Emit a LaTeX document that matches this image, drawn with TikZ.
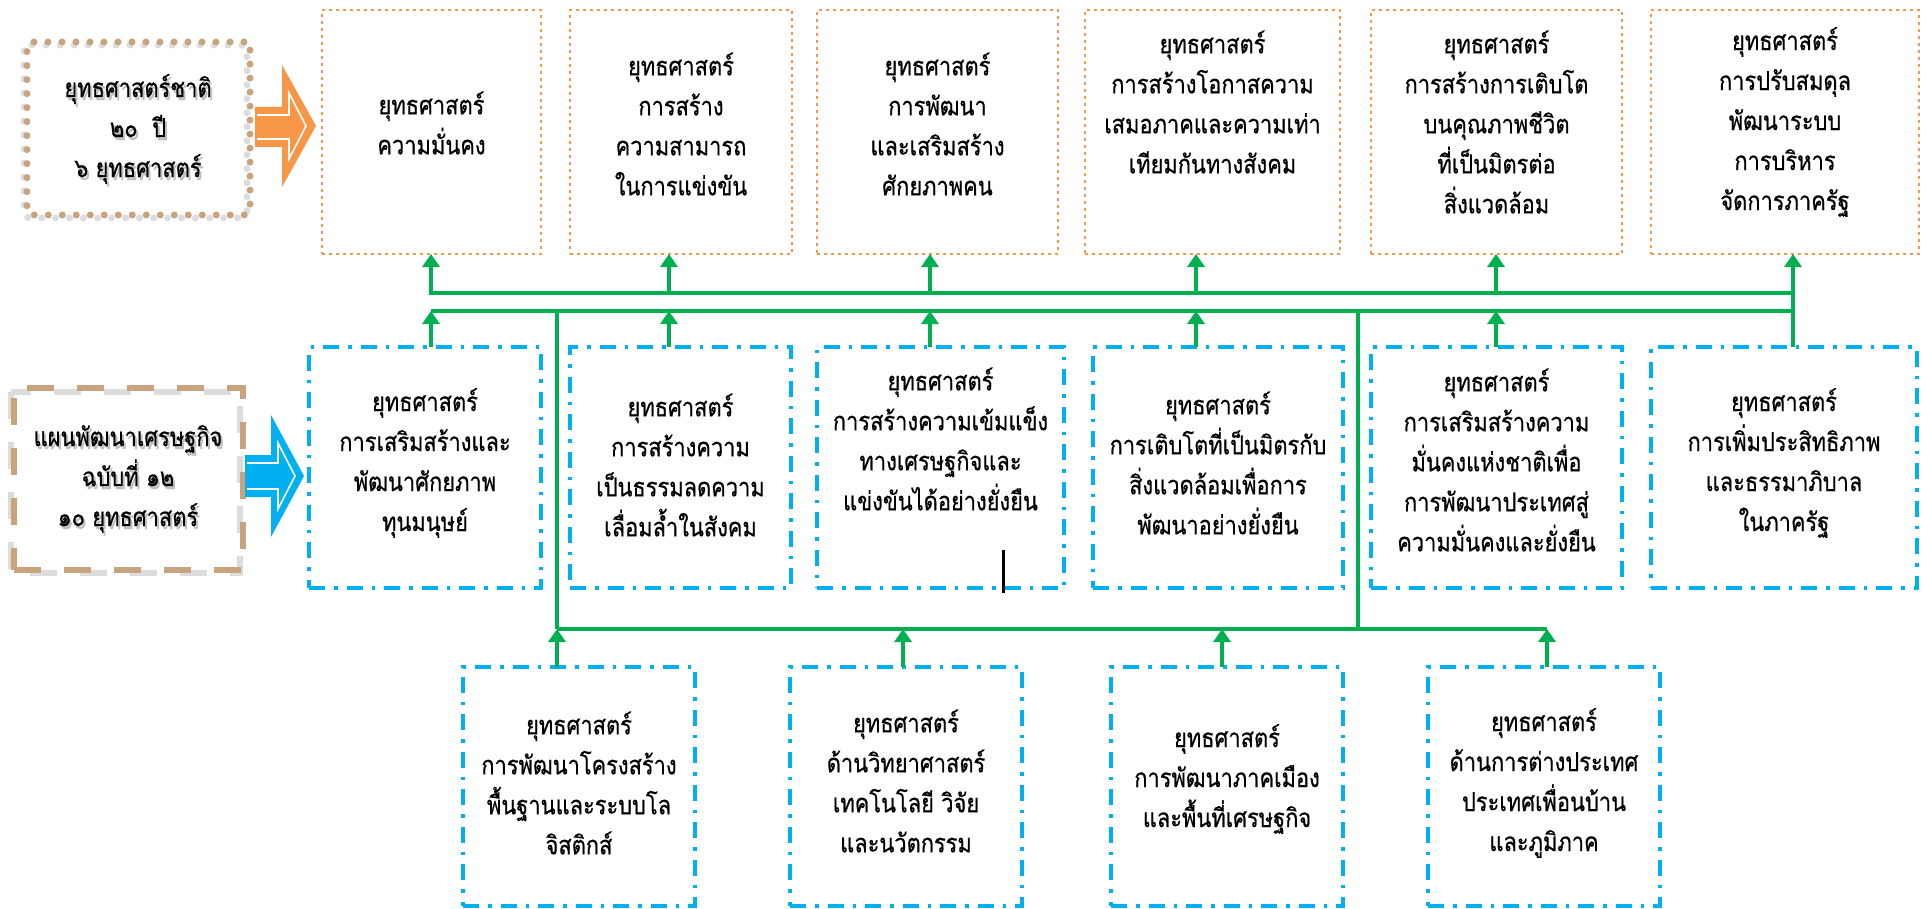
\documentclass[tikz,border=0pt]{standalone}
\usepackage{fontspec}
\newfontfamily\thai[Script=Thai,FakeStretch=0.84,FakeBold=0.6]{Loma}
\usetikzlibrary{arrows.meta}
\definecolor{orgbox}{HTML}{F79646}
\definecolor{bluebox}{HTML}{00B0F0}
\definecolor{grn}{HTML}{00B050}
\definecolor{tanc}{HTML}{C9A37E}
\definecolor{shadowc}{HTML}{DCDCDC}
\tikzset{
  topbox/.style={rectangle, draw=orgbox, line width=2.6pt, dash pattern=on 2.6pt off 4.4pt, inner sep=0pt, outer sep=0pt, minimum height=244pt},
  midbox/.style={rectangle, draw=bluebox, line width=3.2pt, dash pattern=on 16pt off 9pt on 3.5pt off 9pt, inner sep=0pt, outer sep=0pt, minimum height=241pt},
  botbox/.style={midbox, minimum height=239pt, minimum width=232pt},
  txt/.style={align=center, inner sep=0pt, font=\thai\fontsize{26}{40}\selectfont},
  ghost/.style={txt, text=black!25},
  gline/.style={draw=grn, line width=4.5pt},
  garrow/.style={draw=grn, line width=4.5pt, -{Triangle[width=17pt,length=13pt]}},
}
\begin{document}
\begin{tikzpicture}[x=1pt,y=-1pt]
\useasboundingbox[fill=white] (0,0) rectangle (1926,909);

% ---------- left boxes ----------
\draw[shadowc, line width=7pt, dash pattern=on 0pt off 14pt, line cap=round, rounded corners=6pt]
  (24,45) rectangle (247,218);
\node[rectangle, draw=tanc, line width=7pt, dash pattern=on 0pt off 14pt, line cap=round, rounded corners=6pt,
  minimum width=223pt, minimum height=173pt, inner sep=0pt] (L1) at (138.5,128.5) {};
\node[ghost] (L1g) at (140,132) {ยุทธศาสตร์ชาติ\\๒๐ \ ปี\\๖ ยุทธศาสตร์};
\node[txt] (L1t) at (138,129) {ยุทธศาสตร์ชาติ\\๒๐ \ ปี\\๖ ยุทธศาสตร์};

\draw[shadowc, line width=6pt, dash pattern=on 27pt off 23pt] (11,392) rectangle (240,573);
\node[rectangle, draw=tanc, line width=6pt, dash pattern=on 27pt off 23pt,
  minimum width=229pt, minimum height=182pt, inner sep=0pt] (L2) at (128.5,479) {};
\node[ghost] (L2g) at (130,482) {แผนพัฒนาเศรษฐกิจ\\ฉบับที่ ๑๒\\๑๐ ยุทธศาสตร์};
\node[txt] (L2t) at (128,479) {แผนพัฒนาเศรษฐกิจ\\ฉบับที่ ๑๒\\๑๐ ยุทธศาสตร์};

% ---------- block arrows ----------
\path[fill=orgbox] (255,107) -- (282,107) -- (282,65) -- (316,126) -- (282,187) -- (282,147) -- (255,147) -- cycle;
\draw[white, line width=1.6pt, line join=miter] (257,115) -- (289,115) -- (289,93) -- (306,126) -- (289,159) -- (289,139) -- (257,139);
\path[fill=bluebox] (245,455) -- (271,455) -- (271,415) -- (304,476) -- (271,537) -- (271,497) -- (245,497) -- cycle;
\draw[white, line width=1.6pt, line join=miter] (247,463) -- (278,463) -- (278,443) -- (295,476) -- (278,509) -- (278,489) -- (247,489);

% ---------- top row ----------
\node[topbox, minimum width=219pt] (t1) at (431.5,132) {};
\node[topbox, minimum width=222pt] (t2) at (681,132) {};
\node[topbox, minimum width=241pt] (t3) at (937.5,132) {};
\node[topbox, minimum width=255pt] (t4) at (1212.5,132) {};
\node[topbox, minimum width=251pt] (t5) at (1496.5,132) {};
\node[topbox, minimum width=268pt] (t6) at (1785,132) {};
\node[txt] (t1t) at (431.5,123) {ยุทธศาสตร์\\ความมั่นคง};
\node[txt] (t2t) at (681,124) {ยุทธศาสตร์\\การสร้าง\\ความสามารถ\\ในการแข่งขัน};
\node[txt] (t3t) at (937.5,124) {ยุทธศาสตร์\\การพัฒนา\\และเสริมสร้าง\\ศักยภาพคน};
\node[txt] (t4t) at (1212.5,102) {ยุทธศาสตร์\\การสร้างโอกาสความ\\เสมอภาคและความเท่า\\เทียมกันทางสังคม};
\node[txt] (t5t) at (1496.5,122) {ยุทธศาสตร์\\การสร้างการเติบโต\\บนคุณภาพชีวิต\\ที่เป็นมิตรต่อ\\สิ่งแวดล้อม};
\node[txt] (t6t) at (1785,122) {ยุทธศาสตร์\\การปรับสมดุล\\พัฒนาระบบ\\การบริหาร\\จัดการภาครัฐ};

% ---------- middle row ----------
\node[midbox, minimum width=232pt] (m1) at (425,467.5) {};
\node[midbox, minimum width=221pt] (m2) at (680.5,467.5) {};
\node[midbox, minimum width=247pt] (m3) at (940.5,467.5) {};
\node[midbox, minimum width=250pt] (m4) at (1218,467.5) {};
\node[midbox, minimum width=251pt] (m5) at (1496.5,467.5) {};
\node[midbox, minimum width=266pt] (m6) at (1784,467.5) {};
\node[txt] (m1t) at (425,463) {ยุทธศาสตร์\\การเสริมสร้างและ\\พัฒนาศักยภาพ\\ทุนมนุษย์};
\node[txt] (m2t) at (680.5,465) {ยุทธศาสตร์\\การสร้างความ\\เป็นธรรมลดความ\\เลื่อมล้ำในสังคม};
\node[txt] (m3t) at (940.5,439) {ยุทธศาสตร์\\การสร้างความเข้มแข็ง\\ทางเศรษฐกิจและ\\แข่งขันได้อย่างยั่งยืน};
\node[txt] (m4t) at (1218,463) {ยุทธศาสตร์\\การเติบโตที่เป็นมิตรกับ\\สิ่งแวดล้อมเพื่อการ\\พัฒนาอย่างยั่งยืน};
\node[txt] (m5t) at (1496.5,460) {ยุทธศาสตร์\\การเสริมสร้างความ\\มั่นคงแห่งชาติเพื่อ\\การพัฒนาประเทศสู่\\ความมั่นคงและยั่งยืน};
\node[txt] (m6t) at (1784,463) {ยุทธศาสตร์\\การเพิ่มประสิทธิภาพ\\และธรรมาภิบาล\\ในภาครัฐ};
\draw[black, line width=3pt] (1003,550) -- (1003,593);

% ---------- bottom row ----------
\node[botbox] (b1) at (579,786.5) {};
\node[botbox] (b2) at (906,786.5) {};
\node[botbox] (b3) at (1227,786.5) {};
\node[botbox] (b4) at (1544,786.5) {};
\node[txt] (b1t) at (579,783) {ยุทธศาสตร์\\การพัฒนาโครงสร้าง\\พื้นฐานและระบบโล\\จิสติกส์};
\node[txt] (b2t) at (906,781) {ยุทธศาสตร์\\ด้านวิทยาศาสตร์\\เทคโนโลยี วิจัย\\และนวัตกรรม};
\node[txt] (b3t) at (1227,779) {ยุทธศาสตร์\\การพัฒนาภาคเมือง\\และพื้นที่เศรษฐกิจ};
\node[txt] (b4t) at (1544,783) {ยุทธศาสตร์\\ด้านการต่างประเทศ\\ประเทศเพื่อนบ้าน\\และภูมิภาค};

% ---------- connectors ----------
\coordinate (ubL) at (431,293);
\coordinate (ubR) at (1793,293);
\coordinate (lbL) at (431,311);
\coordinate (lbR) at (1793,311);
\coordinate (bbL) at (557,629);
\coordinate (bbR) at (1547,629);
\coordinate (bbM) at (1358,629);

% upper bus to top boxes
\draw[garrow] (ubR) -- (ubL) -- (ubL |- t1.south);
\draw[garrow] (669,293) -- (669,0 |- t2.south);
\draw[garrow] (930,293) -- (930,0 |- t3.south);
\draw[garrow] (1196,293) -- (1196,0 |- t4.south);
\draw[garrow] (1496,293) -- (1496,0 |- t5.south);
\draw[garrow] (m6.north -| ubR) -- (ubR |- t6.south);
% lower bus
\draw[gline] (lbL) -- (lbR);
\draw[garrow] (m1.north -| lbL) -- (lbL);
\draw[garrow] (m2.north -| 669,0) -- (669,311);
\draw[garrow] (m3.north -| 930,0) -- (930,311);
\draw[garrow] (m4.north -| 1196,0) -- (1196,311);
\draw[garrow] (m5.north -| 1496,0) -- (1496,311);
% down to bottom bus
\draw[gline] (bbL |- lbL) -- (bbL);
\draw[gline] (bbM |- lbL) -- (bbM);
\draw[gline] (bbL) -- (bbR);
\draw[garrow] (b1.north -| bbL) -- (bbL);
\draw[garrow] (b2.north -| 903,0) -- (903,629);
\draw[garrow] (b3.north -| 1222,0) -- (1222,629);
\draw[garrow] (b4.north -| bbR) -- (bbR);
\end{tikzpicture}
\end{document}
